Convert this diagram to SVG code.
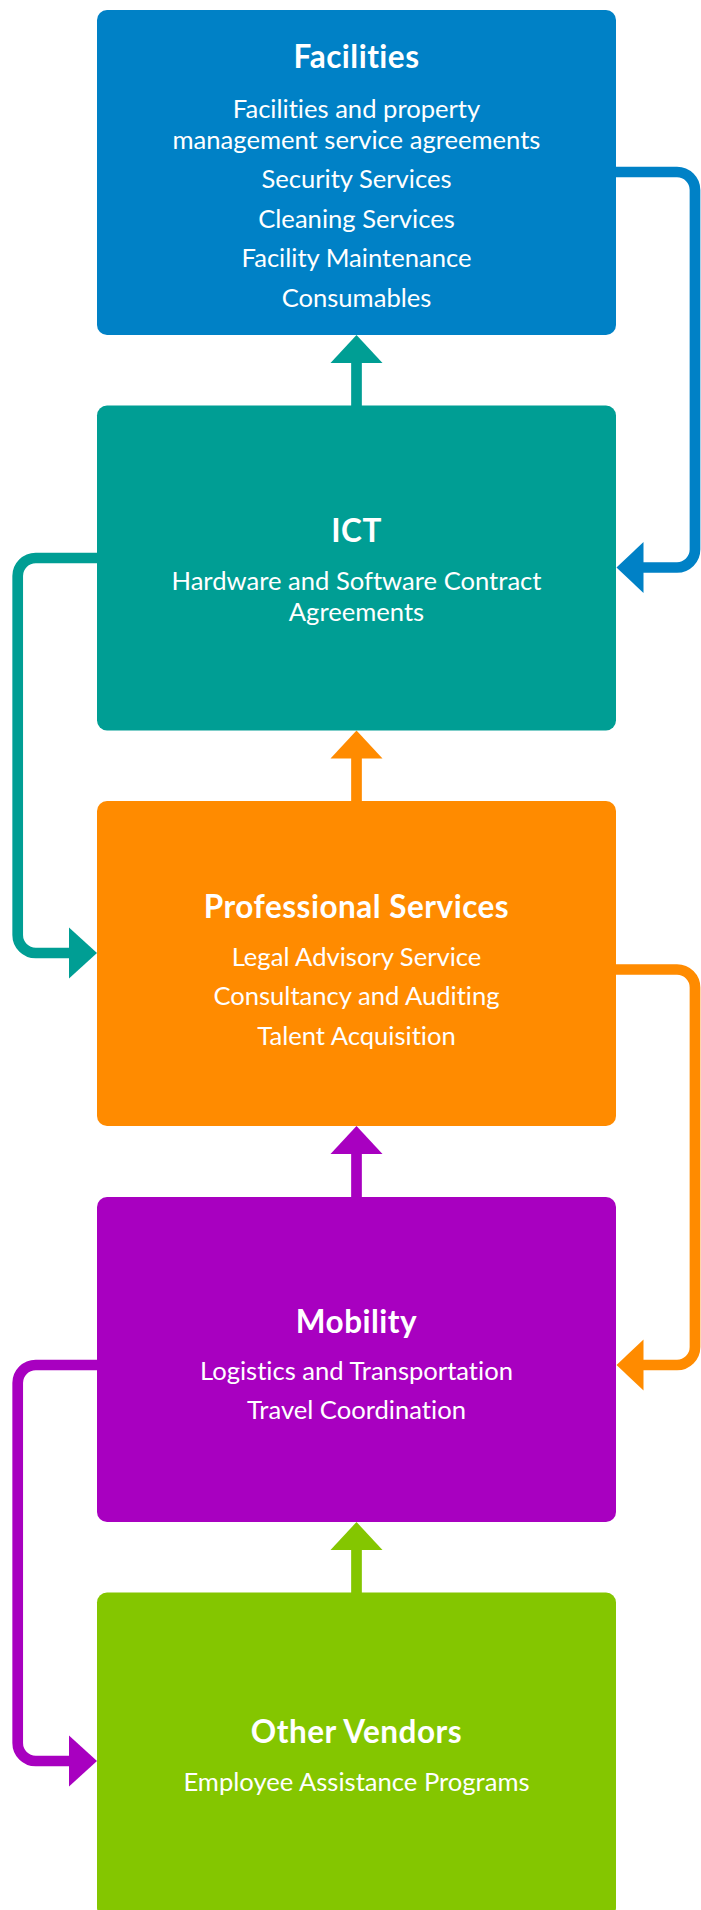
<svg xmlns="http://www.w3.org/2000/svg" width="701" height="1910" viewBox="0 0 701 1910">
<style>
.box{stroke:none}
.t{font-family:Lato,"Source Sans Pro","Noto Sans",sans-serif;fill:#fff;text-anchor:middle;font-variant-ligatures:none}
.h{font-weight:700;font-size:31.5px;letter-spacing:0.5px}
.b{font-weight:400;font-size:25.6px}
.c{fill:none;stroke-width:10.7;stroke-linejoin:round}
</style>
<rect width="701" height="1910" fill="#fff"/>
<g id="connectors">
  <line x1="356.5" y1="362" x2="356.5" y2="406" stroke="#009E94" class="c"/>
  <polygon points="356.5,335 330.5,363 382.5,363" fill="#009E94"/>
  <line x1="356.5" y1="757" x2="356.5" y2="802" stroke="#FF8B00" class="c"/>
  <polygon points="356.5,730.5 330.5,758.5 382.5,758.5" fill="#FF8B00"/>
  <line x1="356.5" y1="1153" x2="356.5" y2="1198" stroke="#A800C0" class="c"/>
  <polygon points="356.5,1126 330.5,1154 382.5,1154" fill="#A800C0"/>
  <line x1="356.5" y1="1549" x2="356.5" y2="1593" stroke="#84C600" class="c"/>
  <polygon points="356.5,1522 330.5,1550 382.5,1550" fill="#84C600"/>
  <path class="c" stroke="#0081C6" d="M610 172 H677 A18 18 0 0 1 695 190 V549.5 A18 18 0 0 1 677 567.5 H640"/>
  <polygon points="616.5,567.5 643.5,542 643.5,593" fill="#0081C6"/>
  <path class="c" stroke="#009E94" d="M103 558 H35.7 A18 18 0 0 0 17.7 576 V935 A18 18 0 0 0 35.7 953 H72"/>
  <polygon points="97,953 69,927.5 69,978.5" fill="#009E94"/>
  <path class="c" stroke="#FF8B00" d="M610 969.5 H677 A18 18 0 0 1 695 987.5 V1347 A18 18 0 0 1 677 1365 H640"/>
  <polygon points="616.5,1365 643.5,1339.5 643.5,1390.5" fill="#FF8B00"/>
  <path class="c" stroke="#A800C0" d="M103 1365 H35.7 A18 18 0 0 0 17.7 1383 V1743 A18 18 0 0 0 35.7 1761 H72"/>
  <polygon points="97,1761 69,1735.5 69,1786.5" fill="#A800C0"/>
</g>
<g id="facilities">
  <rect class="box" x="97" y="10" width="519" height="325" rx="10" fill="#0081C6"/>
  <text class="t h" x="356.5" y="68.3">Facilities</text>
  <text class="t b" x="356.5" y="117.5">Facilities and property</text>
  <text class="t b" x="356.5" y="148.5">management service agreements</text>
  <text class="t b" x="356.5" y="188">Security Services</text>
  <text class="t b" x="356.5" y="227.5">Cleaning Services</text>
  <text class="t b" x="356.5" y="267">Facility Maintenance</text>
  <text class="t b" x="356.5" y="306.5">Consumables</text>
</g>
<g id="ict">
  <rect class="box" x="97" y="405.5" width="519" height="325" rx="10" fill="#009E94"/>
  <text class="t h" x="356.5" y="542.3">ICT</text>
  <text class="t b" x="356.5" y="590">Hardware and Software Contract</text>
  <text class="t b" x="356.5" y="621">Agreements</text>
</g>
<g id="professional-services">
  <rect class="box" x="97" y="801" width="519" height="325" rx="10" fill="#FF8B00"/>
  <text class="t h" x="356.5" y="918.3">Professional Services</text>
  <text class="t b" x="356.5" y="965.7">Legal Advisory Service</text>
  <text class="t b" x="356.5" y="1005">Consultancy and Auditing</text>
  <text class="t b" x="356.5" y="1045">Talent Acquisition</text>
</g>
<g id="mobility">
  <rect class="box" x="97" y="1197" width="519" height="325" rx="10" fill="#A800C0"/>
  <text class="t h" x="356.5" y="1332.7">Mobility</text>
  <text class="t b" x="356.5" y="1380">Logistics and Transportation</text>
  <text class="t b" x="356.5" y="1419.3">Travel Coordination</text>
</g>
<g id="other-vendors">
  <rect class="box" x="97" y="1592.5" width="519" height="325" rx="10" fill="#84C600"/>
  <text class="t h" x="356.5" y="1742.7">Other Vendors</text>
  <text class="t b" x="356.5" y="1791">Employee Assistance Programs</text>
</g>
</svg>
